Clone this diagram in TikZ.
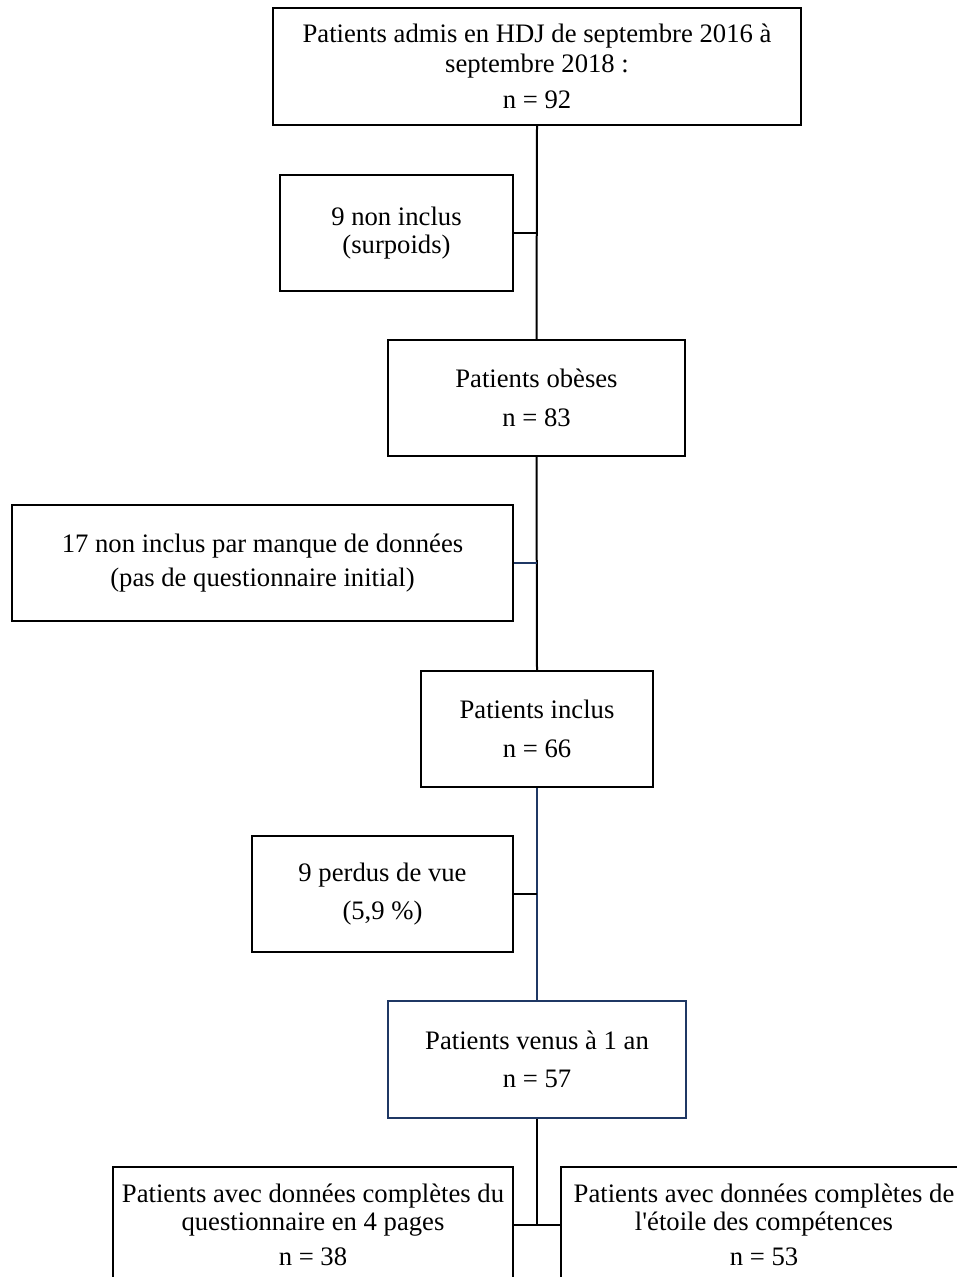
\documentclass[tikz,border=0pt]{standalone}
\usepackage{fontspec}
\setmainfont{Liberation Serif}
\definecolor{navyline}{RGB}{31,56,100}
\tikzset{
  flowbox/.style={draw, line width=1.5pt, inner sep=0pt, align=center,
    font=\fontsize{20}{21}\selectfont, minimum height=87pt},
  link/.style={line width=1.5pt}
}
\begin{document}
\begin{tikzpicture}[x=0.75pt, y=-0.75pt]
  \useasboundingbox (0,0) rectangle (956,1277);
  % main column, one box per stage of the selection
  \node[flowbox, minimum width=396pt, minimum height=87.75pt] (admis) at (537,66.5)
    {Patients admis en HDJ de septembre 2016 à\\[1.5pt] septembre 2018 :\\[6.5pt] n = 92};
  \node[flowbox, minimum width=222.75pt] (obeses) at (536.5,398)
    {Patients obèses\\[8pt] n = 83};
  \node[flowbox, minimum width=174pt] (inclus) at (537,729)
    {Patients inclus\\[8pt] n = 66};
  \node[flowbox, draw=navyline, minimum width=223.5pt, minimum height=87.75pt] (venus) at (537,1059.5)
    {Patients venus à 1 an\\[8pt] n = 57};
  % exclusions on the left of the column
  \node[flowbox, minimum width=174.75pt] (surpoids) at (396.5,233)
    {9 non inclus\\ (surpoids)};
  \node[flowbox, minimum width=375.75pt] (manque) at (262.5,563)
    {17 non inclus par manque de données\\[5pt] (pas de questionnaire initial)};
  \node[flowbox, minimum width=195.75pt] (perdus) at (382.5,894)
    {9 perdus de vue\\[8pt] (5,9 \%)};
  % the two analysed groups, cut by the page edge
  \node[flowbox, minimum width=300pt] (quest) at (313,1225)
    {Patients avec données complètes du\\ questionnaire en 4 pages\\[5pt] n = 38};
  \node[flowbox, minimum width=304.5pt] (etoile) at (764,1225)
    {Patients avec données complètes de\\ l\textquotesingle étoile des compétences\\[5pt] n = 53};

  \draw[link] (admis.south) -- (obeses.north);
  \draw[link] (obeses.south) -- (inclus.north);
  \draw[link, navyline] (inclus.south) -- (venus.north);
  \draw[link] (venus.south) -- (venus.south |- quest.east);
  \draw[link] (quest.east) -- (etoile.west);
  \draw[link] (surpoids.east) -- (surpoids.east -| admis.south);
  \draw[link, navyline] (manque.east) -- (manque.east -| admis.south);
  \draw[link] (perdus.east) -- (perdus.east -| admis.south);
\end{tikzpicture}
\end{document}
